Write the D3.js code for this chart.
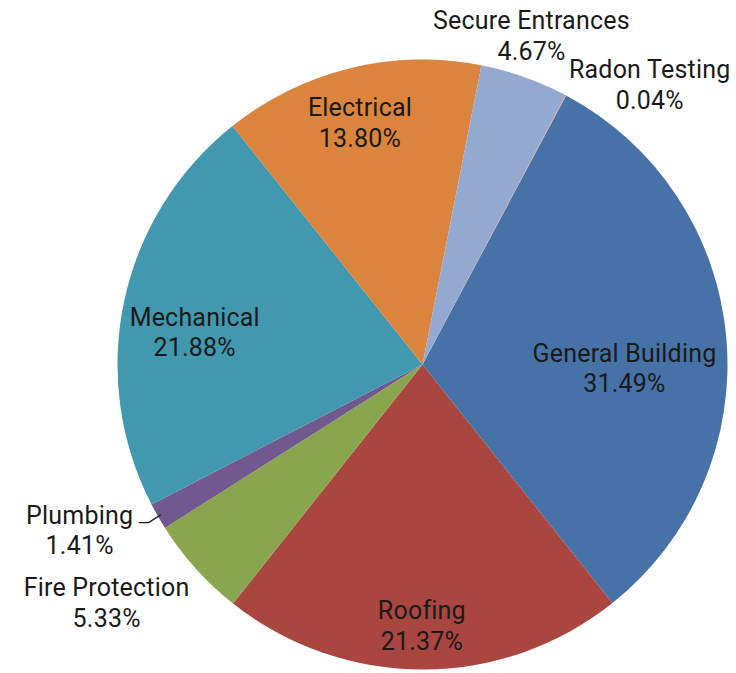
<!DOCTYPE html>
<html>
<head>
<meta charset="utf-8">
<script src="https://cdn.jsdelivr.net/npm/d3@7"></script>
<style>
  body { margin: 0; background: #fff; }
  text { font-family: Roboto, "Open Sans", sans-serif; fill: #1a1a1a; }
</style>
</head>
<body>
<div id="viz"></div>
<script>
var width = 736;
var height = 673;

// data, in drawing order (clockwise)
var categories = ["General Building", "Roofing", "Fire Protection", "Plumbing",
  "Mechanical", "Electrical", "Secure Entrances", "Radon Testing"];
var shares = [31.49, 21.37, 5.33, 1.41, 21.88, 13.80, 4.67, 0.04];
var colors = ["#4672A7", "#A9463F", "#89A54E", "#71588F",
  "#4198AF", "#DB843D", "#93A9CF", "#D19392"];

// label placement: radius from centre and angle nudge (degrees)
var labelRadius = [202, 262, 396, 381, 230, 249, 346, 360];
var labelNudge = [6.4, 0.2, 4.9, 4.0, -4.1, -0.85, -1.2, 11.1];

var cx = 422.5, cy = 364.5, radius = 305;
var startDeg = 28.1;

var svg = d3.select("#viz")
  .append("svg")
  .attr("width", width)
  .attr("height", height);

var g = svg.append("g")
  .attr("transform", "translate(" + cx + "," + cy + ")");

var pie = d3.pie()
  .sort(null)
  .value(function(d) { return d; })
  .startAngle(startDeg * Math.PI / 180)
  .endAngle(startDeg * Math.PI / 180 + 2 * Math.PI);

var arcs = pie(shares);

var arc = d3.arc()
  .innerRadius(0)
  .outerRadius(radius);

g.selectAll("path.slice")
  .data(arcs)
  .enter()
  .append("path")
  .attr("class", "slice")
  .attr("d", arc)
  .attr("fill", function(d, i) { return colors[i]; });

// labels
function labelPos(d, i) {
  var a = (d.startAngle + d.endAngle) / 2 + labelNudge[i] * Math.PI / 180;
  var r = labelRadius[i];
  return [Math.sin(a) * r, -Math.cos(a) * r];
}

var labels = g.selectAll("text.lbl")
  .data(arcs)
  .enter()
  .append("text")
  .attr("class", "lbl")
  .attr("text-anchor", "middle")
  .style("font-size", "25px")
  .style("letter-spacing", "0.2px")
  .attr("transform", function(d, i) {
    var p = labelPos(d, i);
    return "translate(" + p[0] + "," + p[1] + ")";
  });

labels.append("tspan")
  .attr("x", 0)
  .attr("y", -7)
  .text(function(d, i) { return categories[i]; });

labels.append("tspan")
  .attr("x", 0)
  .attr("y", 23.5)
  .text(function(d, i) { return shares[i].toFixed(2) + "%"; });

// leader line for the plumbing slice
var plumb = arcs[3];
var pa = (plumb.startAngle + plumb.endAngle) / 2;
var edge = [Math.sin(pa) * (radius - 3), -Math.cos(pa) * (radius - 3)];
var lp = labelPos(plumb, 3);
var lineY = lp[1] - 8;
g.append("path")
  .attr("d", d3.line()([
    [lp[0] + 59, lineY],
    [lp[0] + 69, lineY],
    [edge[0], edge[1]]
  ]))
  .attr("fill", "none")
  .attr("stroke", "#1a1a1a")
  .attr("stroke-width", 1.3);
</script>
</body>
</html>
